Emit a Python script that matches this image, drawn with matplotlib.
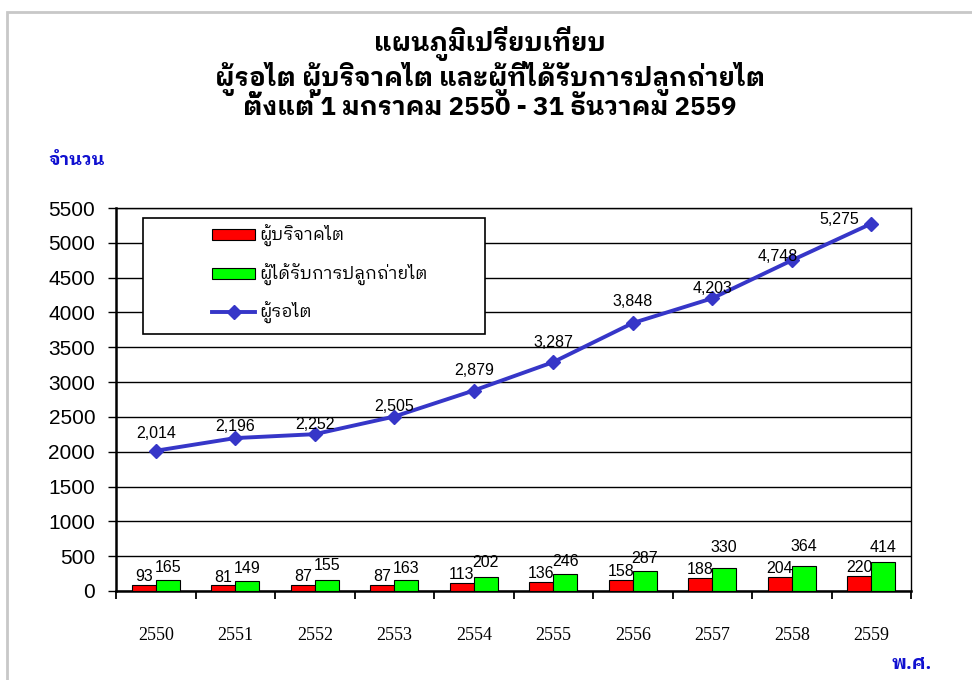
import matplotlib
matplotlib.use("Agg")
import matplotlib.pyplot as plt
from matplotlib.patches import Rectangle, Patch
from matplotlib.lines import Line2D
import numpy as np

years = ["2550", "2551", "2552", "2553", "2554", "2555", "2556", "2557", "2558", "2559"]
donors = [93, 81, 87, 87, 113, 136, 158, 188, 204, 220]
transplants = [165, 149, 155, 163, 202, 246, 287, 330, 364, 414]
waiting = [2014, 2196, 2252, 2505, 2879, 3287, 3848, 4203, 4748, 5275]

title_lines = ["แผนภูมิเปรียบเทียบ",
               "ผู้รอไต ผู้บริจาคไต และผู้ที่ได้รับการปลูกถ่ายไต",
               "ตั้งแต่ 1 มกราคม 2550 - 31 ธันวาคม 2559"]
label_donors = "ผู้บริจาคไต"
label_trans = "ผู้ได้รับการปลูกถ่ายไต"
label_wait = "ผู้รอไต"
ylabel = "จำนวน"
xlabel = "พ.ศ."

THAI = ["IBM Plex Sans Thai Looped", "DejaVu Sans"]
plt.rcParams['font.family'] = THAI

fig = plt.figure(figsize=(9.72, 6.8), dpi=100)
W, H = 972, 680
ax = fig.add_axes([116 / W, 1 - 591 / H, 795 / W, 383 / H])

x = np.arange(len(years))
bw = 0.3
red = "#FF0000"
green = "#00FF00"
blue = "#3636C8"

ax.bar(x - bw / 2, donors, bw, color=red, edgecolor="black", linewidth=0.8, zorder=3)
ax.bar(x + bw / 2, transplants, bw, color=green, edgecolor="black", linewidth=0.8, zorder=3)
ax.plot(x, waiting, color=blue, lw=2.8, marker="D", markersize=7, zorder=4)

ax.set_xlim(-0.5, len(years) - 0.5)
ax.set_ylim(0, 5500)
ax.set_yticks(np.arange(0, 5501, 500))
ax.yaxis.grid(True, color="black", lw=1)
ax.set_axisbelow(True)
ax.tick_params(axis="y", length=6, width=1, pad=9, labelsize=15,
               labelfontfamily="Liberation Sans")
ax.set_xticks(x)
ax.set_xticklabels(years, fontfamily="Liberation Serif", fontsize=13)
ax.tick_params(axis="x", which="major", length=0, pad=26)
ax.set_xticks(np.arange(-0.5, len(years), 1.0), minor=True)
ax.tick_params(axis="x", which="minor", length=6, width=1.3)
for s in ["left", "bottom"]:
    ax.spines[s].set_linewidth(1.8)
for s in ["top", "right"]:
    ax.spines[s].set_linewidth(1.0)

# value labels (offsets in pixels)
line_off = [(0, 17), (0, 12), (0, 10), (0, 10), (0, 20), (0, 20), (0, 22), (0, 10), (-14, 4), (-32, 4)]
green_off = [12, 12, 15, 11, 14, 12, 13, 21, 19, 15]
for i in range(len(years)):
    ax.annotate(f"{donors[i]}", (x[i] - bw / 2, donors[i]), xytext=(0, 0.5),
                textcoords="offset points", ha="center", va="bottom",
                fontsize=11.5, fontfamily="Liberation Sans", zorder=5)
    ax.annotate(f"{transplants[i]}", (x[i] + bw / 2, transplants[i]),
                xytext=(0, green_off[i] * 0.72), textcoords="offset points",
                ha="center", va="center",
                fontsize=11.5, fontfamily="Liberation Sans", zorder=5)
    dx, dy = line_off[i]
    ax.annotate(f"{waiting[i]:,}", (x[i], waiting[i]), xytext=(dx * 0.72, dy * 0.72),
                textcoords="offset points", ha="center", va="center",
                fontsize=11.5, fontfamily="Liberation Sans", zorder=5)

# legend box
box = Rectangle((27 / 795, 1 - (334 - 208) / 383), 342 / 795, 116 / 383,
                transform=ax.transAxes, facecolor="white", edgecolor="black",
                lw=1.2, zorder=6)
ax.add_patch(box)
handles = [Patch(facecolor=red, edgecolor="black", lw=0.8),
           Patch(facecolor=green, edgecolor="black", lw=0.8),
           Line2D([], [], color=blue, lw=2.8, marker="D", markersize=7)]
leg = ax.legend(handles, [label_donors, label_trans, label_wait],
                loc="upper left", bbox_to_anchor=((212 - 116) / 795, 1 - (225 - 208) / 383),
                frameon=False, fontsize=12.5, handlelength=2.5, handleheight=0.6,
                handletextpad=0.25, labelspacing=0.95, borderpad=0, borderaxespad=0)
leg.set_zorder(7)

# title as one multi-line text
fig.text(490 / W, 1 - 73 / H, "\n".join(title_lines), ha="center", va="center",
         fontsize=18.5, fontweight="bold", linespacing=1.0, multialignment="center")
fig.text(77 / W, 1 - 160 / H, ylabel, ha="center", va="center",
         fontsize=13, fontweight="bold", color="#1010D0")
fig.text(912 / W, 1 - 664 / H, xlabel, ha="center", va="center",
         fontsize=13.5, fontweight="bold", color="#1010D0")

# outer gray frame
fig.add_artist(Rectangle((7 / W, -0.1), 1.2, 1 - 12 / H + 0.1, transform=fig.transFigure,
                         facecolor="none", edgecolor="#C8C8C8", lw=2))

fig.savefig("out.png", dpi=100)
